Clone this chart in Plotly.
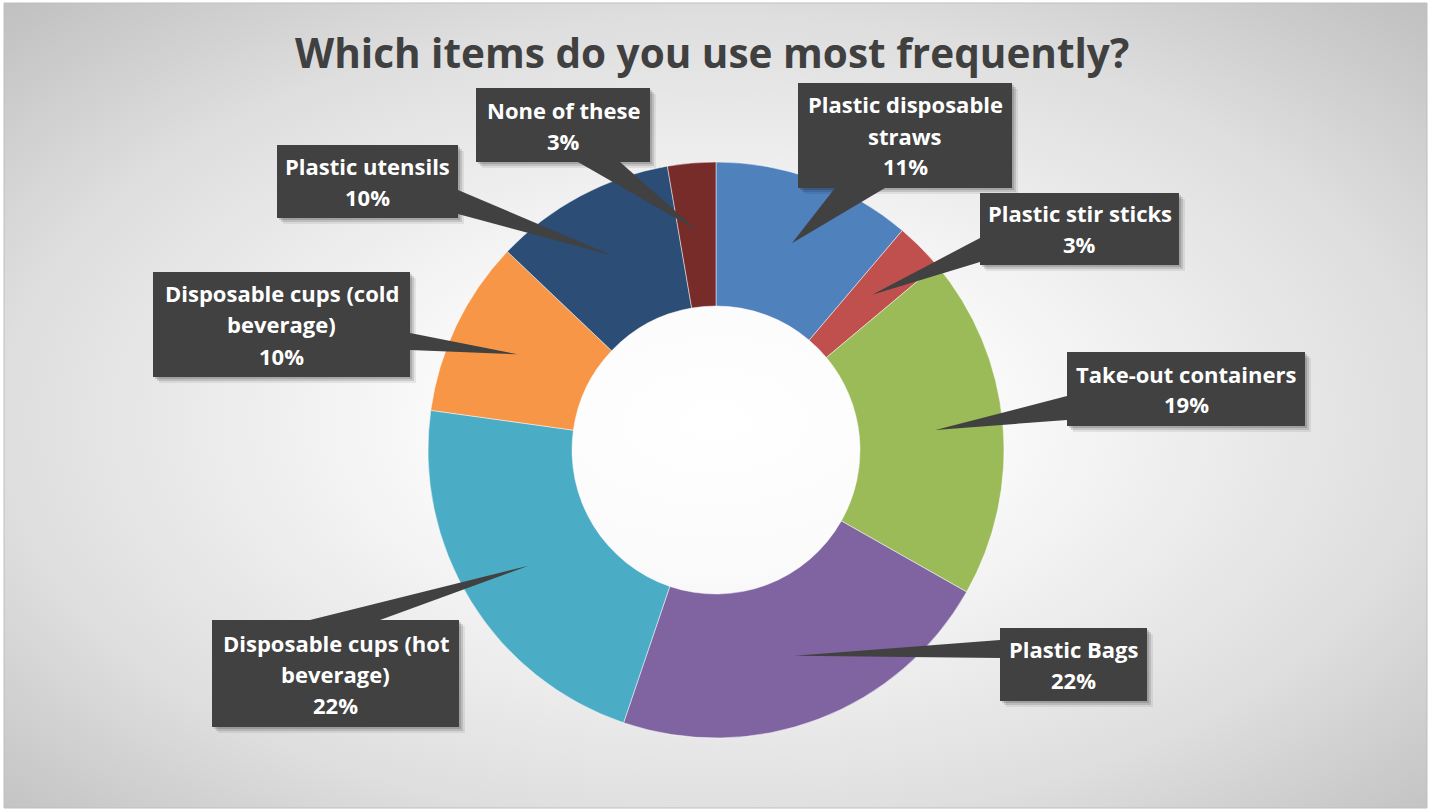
import base64
import numpy as np
import plotly.graph_objects as go

# ---------------- data ----------------
categories = [
    "Plastic disposable straws",
    "Plastic stir sticks",
    "Take-out containers",
    "Plastic Bags",
    "Disposable cups (hot beverage)",
    "Disposable cups (cold beverage)",
    "Plastic utensils",
    "None of these",
]
values = [11.2, 2.7, 19.3, 22.0, 22.0, 9.9, 10.2, 2.7]
colors = ["#4f81bd", "#c0504d", "#9bbb59", "#8064a2", "#4bacc6", "#f79646", "#2c4d75", "#772c2a"]
title = "Which items do you use most frequently?"

# display wrapping of category names (layout only)
wrap_lines = [
    ["Plastic disposable", "straws"],
    ["Plastic stir sticks"],
    ["Take-out containers"],
    ["Plastic Bags"],
    ["Disposable cups (hot", "beverage)"],
    ["Disposable cups (cold", "beverage)"],
    ["Plastic utensils"],
    ["None of these"],
]

# ---------------- layout geometry (pixels) ----------------
W, H = 1429, 810
CX, CY, R = 716, 450, 288
HOLE = 0.5
TIP_R = 0.765

boxes = [
    (798, 83, 1012, 188),
    (980, 193, 1179, 265),
    (1067, 352, 1305, 426),
    (1000, 628, 1147, 701),
    (212, 620, 459, 727),
    (153, 272, 410, 377),
    (277, 145, 458, 218),
    (476, 88, 650, 162),
]
bases = [
    ((835, 188), (885, 188)),
    ((980, 238), (980, 262)),
    ((1067, 396), (1067, 420)),
    ((1000, 640), (1000, 658)),
    ((310, 620), (380, 620)),
    ((410, 333), (410, 350)),
    ((458, 190), (458, 214)),
    ((578, 162), (620, 162)),
]


def px(x):
    return x / W


def py(y):
    return 1 - y / H


fig = go.Figure()
fig.add_trace(go.Pie(
    labels=categories,
    values=values,
    hole=HOLE,
    sort=False,
    direction="clockwise",
    rotation=0,
    marker=dict(colors=colors, line=dict(color="rgba(255,255,255,0.6)", width=0.8)),
    textinfo="none",
    hoverinfo="label+percent",
    showlegend=False,
    domain=dict(x=[px(CX - R), px(CX + R)], y=[py(CY + R), py(CY - R)]),
))

# background radial gradient via svg image
svg = (
    '<svg xmlns="http://www.w3.org/2000/svg" width="1423" height="805" preserveAspectRatio="none">'
    '<defs><radialGradient id="g" cx="0.5" cy="0.52" r="0.72">'
    '<stop offset="0" stop-color="#ffffff"/>'
    '<stop offset="0.25" stop-color="#fbfbfb"/>'
    '<stop offset="0.7" stop-color="#dedede"/>'
    '<stop offset="1" stop-color="#c0c0c0"/>'
    '</radialGradient></defs>'
    '<rect x="0" y="0" width="1423" height="805" fill="url(#g)"/></svg>'
)
src = "data:image/svg+xml;base64," + base64.b64encode(svg.encode()).decode()

shapes = []
annotations = []

# percent labels computed from data
total = sum(values)
pcts = [round(v / total * 100) for v in values]
cum = np.cumsum([0] + values[:-1])
mid_angles = [(c + v / 2) / total * 2 * np.pi for c, v in zip(cum, values)]

BOX_COLOR = "#414141"
LINE_H = 31
FONT = "Open Sans"

for i in range(len(values)):
    x0, y0, x1, y1 = boxes[i]
    a = mid_angles[i]
    tx = CX + TIP_R * R * np.sin(a)
    ty = CY - TIP_R * R * np.cos(a)
    (bx1, by1), (bx2, by2) = bases[i]
    # shadows
    for off, op in ((6, 0.07), (4, 0.12), (2, 0.15)):
        shapes.append(dict(type="rect", xref="paper", yref="paper",
                           x0=px(x0 + off), x1=px(x1 + off), y0=py(y1 + off), y1=py(y0 + off),
                           fillcolor=f"rgba(0,0,0,{op})", line=dict(width=0), layer="above"))
    # pointer wedge
    path = f"M {px(bx1)} {py(by1)} L {px(tx)} {py(ty)} L {px(bx2)} {py(by2)} Z"
    shapes.append(dict(type="path", xref="paper", yref="paper", path=path,
                       fillcolor=BOX_COLOR, line=dict(width=0), layer="above"))
    # box
    shapes.append(dict(type="rect", xref="paper", yref="paper",
                       x0=px(x0), x1=px(x1), y0=py(y1), y1=py(y0),
                       fillcolor=BOX_COLOR, line=dict(width=0), layer="above"))
    lines = wrap_lines[i] + [f"{pcts[i]}%"]
    n = len(lines)
    cxb = (x0 + x1) / 2
    cyb = (y0 + y1) / 2
    for j, t in enumerate(lines):
        yy = cyb + (j - (n - 1) / 2) * LINE_H
        annotations.append(dict(x=px(cxb), y=py(yy), xref="paper", yref="paper",
                                text=f"<b>{t}</b>", showarrow=False,
                                xanchor="center", yanchor="middle",
                                font=dict(family=FONT, size=22, color="#ffffff")))

annotations.append(dict(x=px(712), y=py(52), xref="paper", yref="paper",
                        text=f"<b>{title}</b>", showarrow=False,
                        xanchor="center", yanchor="middle",
                        font=dict(family=FONT, size=40.5, color="#404040")))

# frame
shapes.append(dict(type="rect", xref="paper", yref="paper",
                   x0=px(4), x1=px(1427), y0=py(808), y1=py(3),
                   line=dict(color="#bfbfbf", width=1), fillcolor="rgba(0,0,0,0)", layer="below"))

fig.update_layout(
    width=W, height=H,
    margin=dict(l=0, r=0, t=0, b=0),
    paper_bgcolor="#ffffff",
    plot_bgcolor="rgba(0,0,0,0)",
    images=[dict(source=src, xref="paper", yref="paper", x=px(4), y=py(3),
                 sizex=px(1427) - px(4), sizey=py(3) - py(808),
                 xanchor="left", yanchor="top", sizing="stretch", layer="below")],
    shapes=shapes,
    annotations=annotations,
)

fig.write_html("out.html", config={"displayModeBar": False},
               post_script="document.body.style.margin='0';document.body.style.overflow='hidden';")
